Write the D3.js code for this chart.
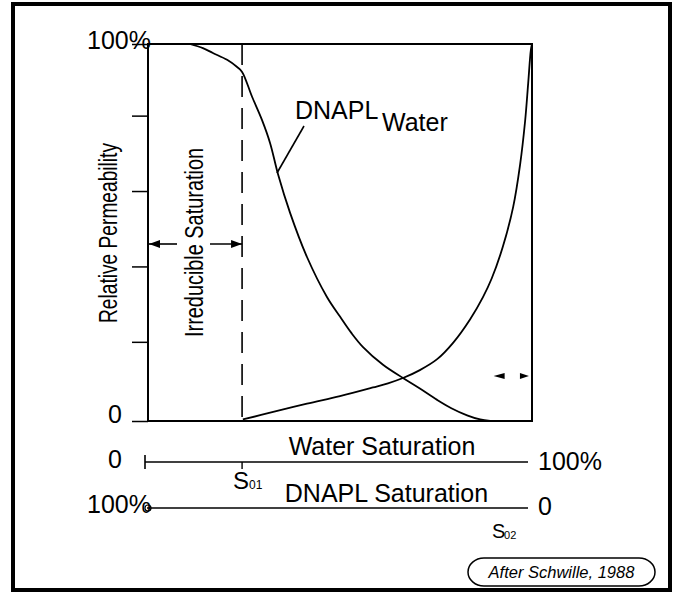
<!DOCTYPE html>
<html>
<head>
<meta charset="utf-8">
<script src="https://cdn.jsdelivr.net/npm/d3@7"></script>
<style>
  html, body { margin: 0; padding: 0; background: #fff; }
  svg { display: block; }
  text { font-family: "Liberation Sans", Arial, sans-serif; fill: #000; }
</style>
</head>
<body>
<svg id="chart" width="675" height="596"></svg>
<script>
// ---- Data (percent values) ----
const dnaplSw = [10.9, 14.3, 16.9, 20.6, 23.2, 24.5, 27.1, 29.7, 31.8, 33.9, 37.0, 41.4, 46.6, 50.0, 53.0, 56.0, 61.2, 66.4, 70.8, 75.3, 79.0, 83.1, 86.5, 89.1];
const dnaplKr = [100, 98.9, 97.6, 95.8, 93.9, 92.6, 86.0, 79.8, 73.7, 65.3, 55.2, 43.5, 32.9, 27.7, 23.3, 19.6, 14.9, 11.4, 8.6, 5.6, 3.4, 1.5, 0.4, 0];
const waterSw = [24.7, 32.6, 41.4, 50.0, 58.6, 62.5, 66.4, 70.8, 75.3, 79.5, 83.9, 87.2, 89.5, 92.4, 95.1, 96.9, 98.2, 99.0, 99.7, 100];
const waterKr = [0.4, 2.4, 4.6, 6.6, 8.9, 10.0, 11.4, 13.5, 16.4, 20.8, 27.0, 32.8, 37.8, 46.2, 56.8, 68.0, 79.5, 89.5, 98.4, 100];
const yTickValues = [0, 21, 41, 61, 81, 100];
const yTickLabels = ["0", "", "", "", "", "100%"];
const irreducibleSw = 24.5;   // S01
const residualSw = 93;        // S02 position on saturation axis
const residualArrowSw = [90, 99.2];
const labels = {
  yTitle: "Relative Permeability",
  irreducible: "Irreducible Saturation",
  dnapl: "DNAPL",
  water: "Water",
  waterAxis: "Water Saturation",
  dnaplAxis: "DNAPL Saturation",
  credit: "After Schwille, 1988"
};

const svg = d3.select("#chart");
const FS = 25;

// outer frame
svg.append("rect").attr("x", 13).attr("y", 4).attr("width", 657).attr("height", 586)
  .attr("fill", "none").attr("stroke", "#000").attr("stroke-width", 4);

const x = d3.scaleLinear().domain([0, 100]).range([148, 532]);
const y = d3.scaleLinear().domain([0, 100]).range([421, 44]);

// y axis ticks
const yAxis = d3.axisLeft(y).tickValues(yTickValues).tickSize(16).tickFormat(() => "");
const gy = svg.append("g").attr("transform", `translate(${x(0)},0)`).call(yAxis);
gy.select(".domain").remove();
gy.selectAll(".tick line").attr("stroke", "#000").attr("stroke-width", 1.5);

// y tick labels
svg.selectAll("text.ylab").data(yTickValues.filter((d, i) => yTickLabels[i] !== ""))
  .enter().append("text").attr("class", "ylab")
  .attr("x", d => d === 100 ? 151 : 122)
  .attr("y", d => y(d) + (d === 100 ? 5 : 2))
  .attr("text-anchor", "end").attr("font-size", FS)
  .text(d => yTickLabels[yTickValues.indexOf(d)]);

// plot frame
svg.append("rect").attr("x", x(0)).attr("y", y(100))
  .attr("width", x(100) - x(0)).attr("height", y(0) - y(100))
  .attr("fill", "none").attr("stroke", "#000").attr("stroke-width", 2);

// irreducible dashed line
svg.append("line").attr("x1", x(irreducibleSw)).attr("x2", x(irreducibleSw))
  .attr("y1", y(100)).attr("y2", y(0))
  .attr("stroke", "#000").attr("stroke-width", 1.6).attr("stroke-dasharray", "21,11");

// curves
const line = d3.line().x(d => x(d[0])).y(d => y(d[1])).curve(d3.curveCatmullRom.alpha(0.5));
svg.append("path").datum(dnaplSw.map((s, i) => [s, dnaplKr[i]]))
  .attr("d", line).attr("fill", "none").attr("stroke", "#000").attr("stroke-width", 1.8);
svg.append("path").datum(waterSw.map((s, i) => [s, waterKr[i]]))
  .attr("d", line).attr("fill", "none").attr("stroke", "#000").attr("stroke-width", 1.8);

// DNAPL / Water label + leader line
svg.append("text").attr("x", 295).attr("y", 119).attr("font-size", FS).text(labels.dnapl);
svg.append("text").attr("x", 382).attr("y", 131).attr("font-size", FS).text(labels.water);
svg.append("line").attr("x1", 304).attr("y1", 126).attr("x2", 277).attr("y2", 173)
  .attr("stroke", "#000").attr("stroke-width", 1.6);

// rotated y title
svg.append("text").attr("transform", "translate(117,233) rotate(-90)")
  .attr("text-anchor", "middle").attr("font-size", FS)
  .attr("textLength", 180).attr("lengthAdjust", "spacingAndGlyphs")
  .text(labels.yTitle);
svg.append("text").attr("transform", "translate(203,242.5) rotate(-90)")
  .attr("text-anchor", "middle").attr("font-size", FS)
  .attr("textLength", 189).attr("lengthAdjust", "spacingAndGlyphs")
  .text(labels.irreducible);

// arrow helper
function arrowHead(tipX, tipY, dir, len, half) {
  const bx = tipX - dir * len;
  svg.append("path")
    .attr("d", `M${tipX},${tipY} L${bx},${tipY - half} L${bx},${tipY + half} Z`)
    .attr("fill", "#000");
}
const ay = 244;
svg.append("line").attr("x1", x(0)).attr("x2", 177).attr("y1", ay).attr("y2", ay)
  .attr("stroke", "#000").attr("stroke-width", 1.6);
svg.append("line").attr("x1", 210).attr("x2", x(irreducibleSw)).attr("y1", ay).attr("y2", ay)
  .attr("stroke", "#000").attr("stroke-width", 1.6);
arrowHead(x(0) + 1, ay, -1, 11, 4);
arrowHead(x(irreducibleSw), ay, 1, 11, 4);

// small residual arrows
arrowHead(x(residualArrowSw[0]), 376, -1, 11, 3);
arrowHead(x(residualArrowSw[1]), 376, 1, 9, 3);

// Water saturation axis
const wy = 462;
svg.append("line").attr("x1", 145).attr("x2", 528).attr("y1", wy).attr("y2", wy)
  .attr("stroke", "#000").attr("stroke-width", 1.6);
svg.append("line").attr("x1", 145).attr("x2", 145).attr("y1", 455).attr("y2", 469)
  .attr("stroke", "#000").attr("stroke-width", 1.6);
svg.append("line").attr("x1", x(irreducibleSw)).attr("x2", x(irreducibleSw)).attr("y1", wy).attr("y2", 469)
  .attr("stroke", "#000").attr("stroke-width", 1.4);
svg.append("text").attr("x", 122).attr("y", 468).attr("text-anchor", "end").attr("font-size", FS).text("0");
svg.append("text").attr("x", 538).attr("y", 470).attr("font-size", FS).text("100%");
svg.append("text").attr("x", 382).attr("y", 455).attr("text-anchor", "middle").attr("font-size", FS)
  .text(labels.waterAxis);

// S01
const s01 = svg.append("text").attr("x", x(irreducibleSw) - 9).attr("y", 489).attr("font-size", 24);
s01.append("tspan").text("S");
s01.append("tspan").attr("font-size", 12).text("01");

// DNAPL saturation axis
const dy = 508;
svg.append("line").attr("x1", 147).attr("x2", 528).attr("y1", dy).attr("y2", dy)
  .attr("stroke", "#000").attr("stroke-width", 1.6);
svg.append("circle").attr("cx", 148).attr("cy", dy).attr("r", 3)
  .attr("fill", "none").attr("stroke", "#000").attr("stroke-width", 1.2);
svg.append("text").attr("x", 151).attr("y", 513).attr("text-anchor", "end").attr("font-size", FS).text("100%");
svg.append("text").attr("x", 538).attr("y", 515).attr("font-size", FS).text("0");
svg.append("text").attr("x", 386.5).attr("y", 502).attr("text-anchor", "middle").attr("font-size", FS)
  .text(labels.dnaplAxis);

// S02
svg.append("text").attr("x", x(residualSw) - 13).attr("y", 538).attr("font-size", 20).text("S");
svg.append("text").attr("x", x(residualSw) - 1).attr("y", 539).attr("font-size", 11).text("02");

// credit pill
svg.append("rect").attr("x", 468).attr("y", 558).attr("width", 187).attr("height", 28)
  .attr("rx", 16).attr("ry", 14).attr("fill", "#fff").attr("stroke", "#000").attr("stroke-width", 1.5);
svg.append("text").attr("x", 561.5).attr("y", 578).attr("text-anchor", "middle")
  .attr("font-size", 16.5).attr("font-style", "italic").text(labels.credit);
</script>
</body>
</html>
